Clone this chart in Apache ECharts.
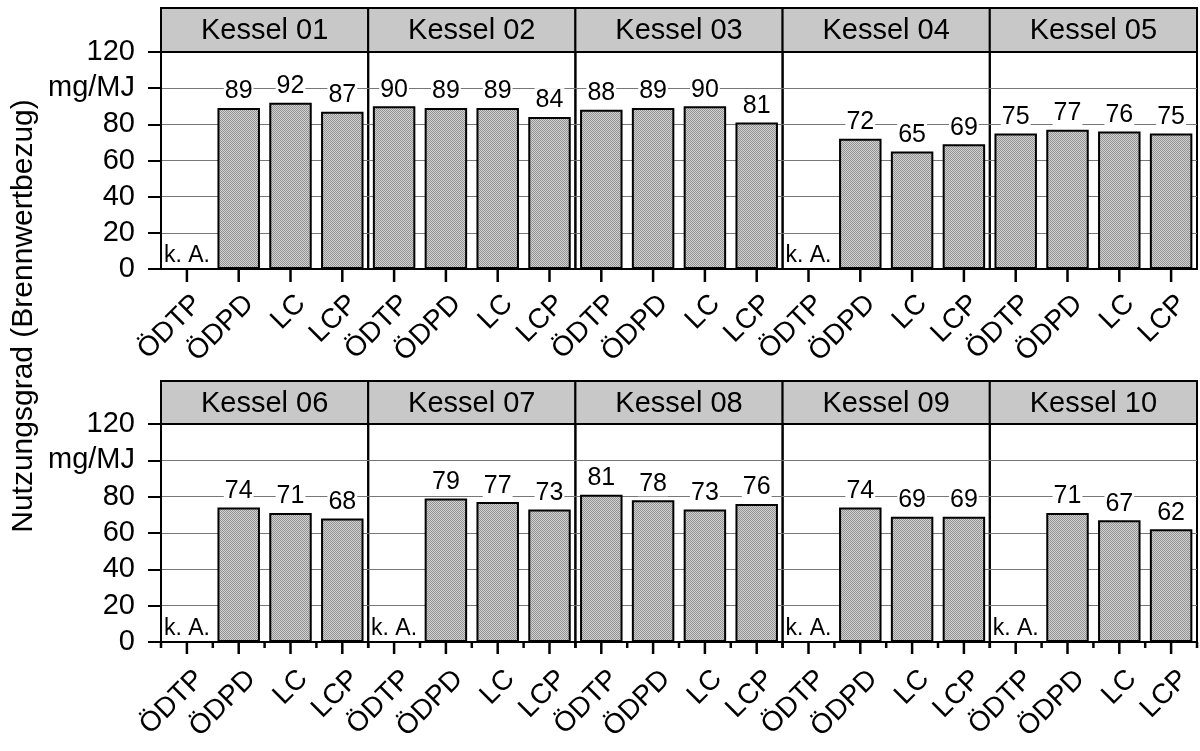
<!DOCTYPE html>
<html>
<head>
<meta charset="utf-8">
<title>Nutzungsgrad Kessel 01-10</title>
<script src="https://cdn.jsdelivr.net/npm/echarts@6/dist/echarts.min.js"></script>
<style>
  html, body { margin: 0; padding: 0; background: #fff; }
  #main { width: 1200px; height: 751px; }
</style>
</head>
<body>
<div id="main"></div>
<script>
// Kategorien und Werte (null = keine Angabe)
var categories = ['ÖDTP', 'ÖDPD', 'LC', 'LCP'];
var kesselNames = ['Kessel 01', 'Kessel 02', 'Kessel 03', 'Kessel 04', 'Kessel 05',
                   'Kessel 06', 'Kessel 07', 'Kessel 08', 'Kessel 09', 'Kessel 10'];
var kessel01 = [null, 89, 92, 87];
var kessel02 = [90, 89, 89, 84];
var kessel03 = [88, 89, 90, 81];
var kessel04 = [null, 72, 65, 69];
var kessel05 = [75, 77, 76, 75];
var kessel06 = [null, 74, 71, 68];
var kessel07 = [null, 79, 77, 73];
var kessel08 = [81, 78, 73, 76];
var kessel09 = [null, 74, 69, 69];
var kessel10 = [null, 71, 67, 62];
var yTickLabels = ['0', '20', '40', '60', '80', 'mg/MJ', '120'];
var yName = 'Nutzungsgrad (Brennwertbezug)';
var noDataText = 'k. A.';

var allValues = [kessel01, kessel02, kessel03, kessel04, kessel05,
                 kessel06, kessel07, kessel08, kessel09, kessel10];

var fontFamily = '"Liberation Sans", Arial, sans-serif';
var panelLeft = 161, panelW = 207.2;
var rowTop = [52, 424], plotH = [217, 218], headH = [44, 43];
var labelMargin = [20, 20], labelPad = [1, 4], tickLen = [13, 12];

// Punktraster fuer die Balken
function stipple() {
    var c = document.createElement('canvas');
    c.width = 2; c.height = 2;
    var ctx = c.getContext('2d');
    ctx.fillStyle = '#d2d2d2';
    ctx.fillRect(0, 0, 2, 2);
    ctx.fillStyle = '#929292';
    ctx.fillRect(0, 0, 1, 1);
    ctx.fillRect(1, 1, 1, 1);
    return c;
}
var barFill = { image: stipple(), repeat: 'repeat' };

function toItems(vals) {
    return vals.map(function (v) {
        if (v === null) {
            return {
                value: 0,
                itemStyle: { borderWidth: 0, color: 'transparent' },
                label: { formatter: noDataText, fontSize: 23, backgroundColor: 'transparent', distance: 2, padding: 0 }
            };
        }
        return v;
    });
}

var grids = [], xAxes = [], yAxes = [], series = [], graphics = [];

for (var i = 0; i < 10; i++) {
    var row = i < 5 ? 0 : 1;
    var col = i % 5;
    var left = panelLeft + col * panelW;
    grids.push({
        left: left, top: rowTop[row], width: panelW, height: plotH[row],
        show: true, borderColor: '#000', borderWidth: 2
    });
    xAxes.push({
        gridIndex: i,
        type: 'category',
        data: categories,
        position: 'bottom',
        axisLine: { show: true, lineStyle: { color: '#000', width: 2 } },
        axisTick: { show: false },
        axisLabel: {
            show: true, interval: 0, rotate: 45, color: '#000', fontSize: 28, fontFamily: fontFamily,
            margin: labelMargin[row], align: 'right', verticalAlign: 'top',
            padding: [labelPad[row], 0, 0, 0]
        }
    });
    var first = col === 0;
    yAxes.push({
        gridIndex: i,
        type: 'value',
        min: 0, max: 120, interval: 20,
        axisLine: { show: first, lineStyle: { color: '#000', width: 2 } },
        axisTick: { show: first, length: 13, lineStyle: { color: '#000', width: 2 } },
        axisLabel: {
            show: first, color: '#000', fontSize: 29, fontFamily: fontFamily, margin: 26,
            formatter: function (v) { return yTickLabels[Math.round(v / 20)]; }
        },
        splitLine: { show: true, lineStyle: { color: ['#000', '#777', '#777', '#777', '#777', '#777', '#000'], width: 1 } }
    });
    series.push({
        type: 'bar',
        xAxisIndex: i,
        yAxisIndex: i,
        barWidth: '82%',
        data: toItems(allValues[i]),
        itemStyle: { color: barFill, borderColor: '#000', borderWidth: 2 },
        label: {
            show: true, position: 'top', distance: 4,
            color: '#000', fontSize: 25, fontFamily: fontFamily,
            backgroundColor: '#fff', padding: [0, 1]
        },
        animation: false
    });
    // Kopfzeile
    graphics.push({
        type: 'rect',
        shape: { x: left, y: rowTop[row] - headH[row], width: panelW, height: headH[row] },
        style: { fill: '#c8c8c8', stroke: '#000', lineWidth: 2 }
    });
    graphics.push({
        type: 'text',
        x: left + panelW / 2,
        y: rowTop[row] - headH[row] / 2 + 1,
        style: {
            text: kesselNames[i], fill: '#000', fontSize: 29, fontFamily: fontFamily,
            align: 'center', verticalAlign: 'middle'
        }
    });
}

graphics.push({
    type: 'text',
    x: 24, y: 316,
    rotation: Math.PI / 2,
    style: {
        text: yName, fill: '#000', fontSize: 30, fontFamily: fontFamily,
        align: 'center', verticalAlign: 'middle'
    }
});

var myChart = echarts.init(document.getElementById('main'));
var option = {
    backgroundColor: '#fff',
    animation: false,
    grid: grids,
    xAxis: xAxes,
    yAxis: yAxes,
    series: series,
    graphic: graphics
};
myChart.setOption(option);

// Striche an der x-Achse ueber die Skalen der Achsen setzen
function tickLine(x, y, len) {
    return {
        type: 'rect',
        z: 100,
        shape: { x: x - 1.25, y: y, width: 2.5, height: len },
        style: { fill: '#000' }
    };
}
var ticks = [];
for (var j = 0; j < 10; j++) {
    var r = j < 5 ? 0 : 1;
    var y0 = myChart.convertToPixel({ yAxisIndex: j }, 0);
    var centers = [];
    for (var k = 0; k < categories.length; k++) {
        centers.push(myChart.convertToPixel({ xAxisIndex: j }, k));
    }
    var half = (centers[1] - centers[0]) / 2;
    for (var m = 0; m < centers.length; m++) {
        ticks.push(tickLine(centers[m], y0, tickLen[r]));
        if (r === 1) ticks.push(tickLine(centers[m] - half, y0, 6));
    }
    if (r === 1) ticks.push(tickLine(centers[centers.length - 1] + half, y0, 6));
}
myChart.setOption({ graphic: graphics.concat(ticks) });
</script>
</body>
</html>
